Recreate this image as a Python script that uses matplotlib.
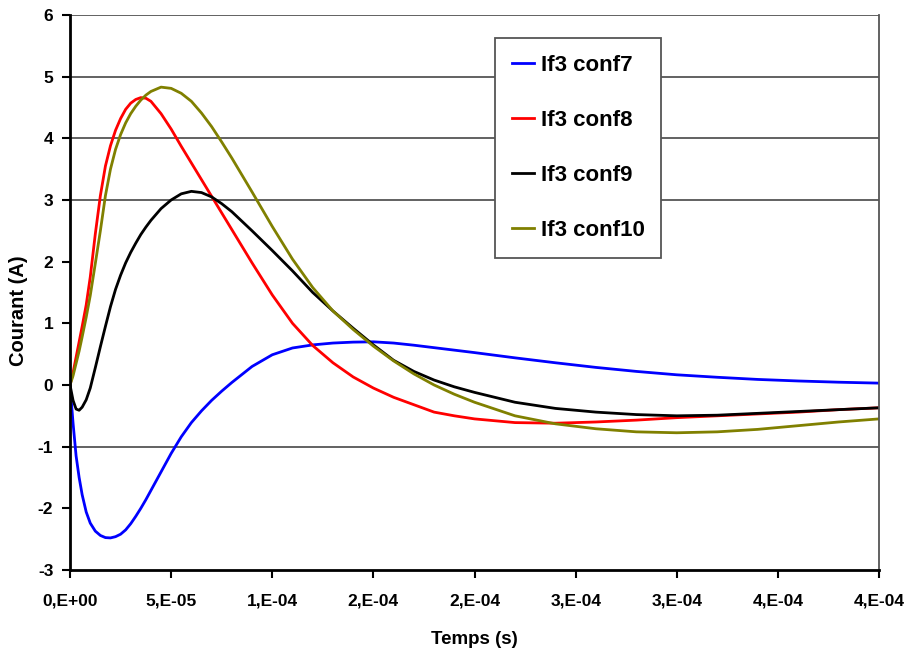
import matplotlib.pyplot as plt

plt.rcParams['font.family'] = ['Liberation Sans', 'DejaVu Sans']
plt.rcParams['font.weight'] = 'bold'
plt.rcParams['axes.labelweight'] = 'bold'
plt.rcParams['axes.unicode_minus'] = False

# time in units of 1e-5 s
t = [0, 0.15, 0.3, 0.45, 0.6, 0.8, 1.0, 1.25, 1.5, 1.75, 2.0, 2.25, 2.5, 2.75,
     3.0, 3.25, 3.5, 3.75, 4.0, 4.5, 5.0, 5.5, 6, 6.5, 7, 7.5, 8, 9, 10, 11,
     12, 13, 14, 15, 16, 17, 18, 19, 20, 22, 24, 26, 28, 30, 32, 34, 36, 38, 40]

conf7 = [0, -0.62, -1.15, -1.5, -1.78, -2.06, -2.24, -2.37, -2.44, -2.475, -2.48,
         -2.46, -2.42, -2.35, -2.25, -2.13, -2.0, -1.86, -1.71, -1.41, -1.11,
         -0.84, -0.61, -0.42, -0.25, -0.1, 0.04, 0.3, 0.49, 0.6, 0.65, 0.68,
         0.695, 0.70, 0.68, 0.645, 0.605, 0.565, 0.525, 0.44, 0.36, 0.285,
         0.22, 0.165, 0.125, 0.09, 0.065, 0.045, 0.03]
conf8 = [0, 0.2, 0.45, 0.7, 0.95, 1.3, 1.75, 2.45, 3.07, 3.55, 3.88, 4.13, 4.32,
         4.47, 4.57, 4.63, 4.66, 4.65, 4.6, 4.4, 4.15, 3.87, 3.6, 3.33, 3.06,
         2.79, 2.52, 1.98, 1.46, 1.0, 0.64, 0.36, 0.13, -0.05, -0.2, -0.32,
         -0.44, -0.5, -0.55, -0.61, -0.62, -0.6, -0.57, -0.53, -0.5, -0.47,
         -0.44, -0.40, -0.37]
conf9 = [0, -0.25, -0.39, -0.41, -0.36, -0.24, -0.05, 0.28, 0.62, 0.95, 1.27,
         1.55, 1.78, 1.98, 2.15, 2.3, 2.44, 2.56, 2.67, 2.86, 3.0, 3.1, 3.14,
         3.12, 3.05, 2.94, 2.81, 2.5, 2.18, 1.85, 1.5, 1.2, 0.92, 0.65, 0.4,
         0.22, 0.08, -0.03, -0.12, -0.28, -0.38, -0.44, -0.48, -0.5, -0.49,
         -0.46, -0.43, -0.40, -0.37]
conf10 = [0, 0.15, 0.35, 0.55, 0.78, 1.1, 1.45, 1.97, 2.5, 3.07, 3.5, 3.82, 4.06,
          4.25, 4.4, 4.52, 4.62, 4.7, 4.76, 4.83, 4.81, 4.73, 4.6, 4.41, 4.19,
          3.94, 3.68, 3.13, 2.57, 2.04, 1.58, 1.2, 0.9, 0.63, 0.39, 0.18, 0.0,
          -0.15, -0.28, -0.5, -0.63, -0.71, -0.76, -0.775, -0.76, -0.72, -0.66,
          -0.6, -0.55]

x_ticks = [0, 5, 10, 15, 20, 25, 30, 35, 40]
x_labels = ["0,E+00", "5,E-05", "1,E-04", "2,E-04", "2,E-04",
            "3,E-04", "3,E-04", "4,E-04", "4,E-04"]
grid_levels = [6, 5, 4, 3, -1]

fig = plt.figure(figsize=(9.13, 6.6), dpi=100)
ax = fig.add_axes([0.0767, 0.1364, 0.8861, 0.8409])

for y in grid_levels:
    ax.axhline(y, color='#555555', lw=1.3, zorder=0)

ax.plot(t, conf7, color='#0000FF', lw=2.0, label='If3 conf7')
ax.plot(t, conf8, color='#FF0000', lw=2.0, label='If3 conf8')
ax.plot(t, conf9, color='black', lw=2.0, label='If3 conf9')
ax.plot(t, conf10, color='#808000', lw=2.0, label='If3 conf10')

ax.set_xlim(0, 40)
ax.set_ylim(-3, 6)
ax.set_xticks(x_ticks)
ax.set_xticklabels(x_labels)
ax.set_yticks(range(-3, 7))
ax.tick_params(direction='out', length=6, width=1.5, labelsize=12.5)
ax.tick_params(axis='x', pad=11)
ax.tick_params(axis='y', pad=6)
for lbl in ax.get_xticklabels() + ax.get_yticklabels():
    lbl.set_fontweight('bold')

ax.spines['top'].set_visible(False)
ax.spines['right'].set_color('#555555')
ax.spines['right'].set_linewidth(1.3)
ax.spines['left'].set_linewidth(2)
ax.spines['bottom'].set_linewidth(2)

ax.set_xlabel('Temps (s)', fontsize=13.5, labelpad=16)
ax.set_ylabel('Courant (A)', fontsize=14.5)
ax.yaxis.set_label_coords(-0.052, 0.468)

leg = ax.legend(loc='upper left', bbox_to_anchor=(0.542, 0.942),
                bbox_transform=fig.transFigure, borderaxespad=0,
                fontsize=16, handlelength=1.0, handletextpad=0.3,
                labelspacing=1.53, borderpad=0.76, fancybox=False,
                framealpha=1, edgecolor='#555555')
leg.get_frame().set_linewidth(1.3)

fig.savefig('out.png', dpi=100)
